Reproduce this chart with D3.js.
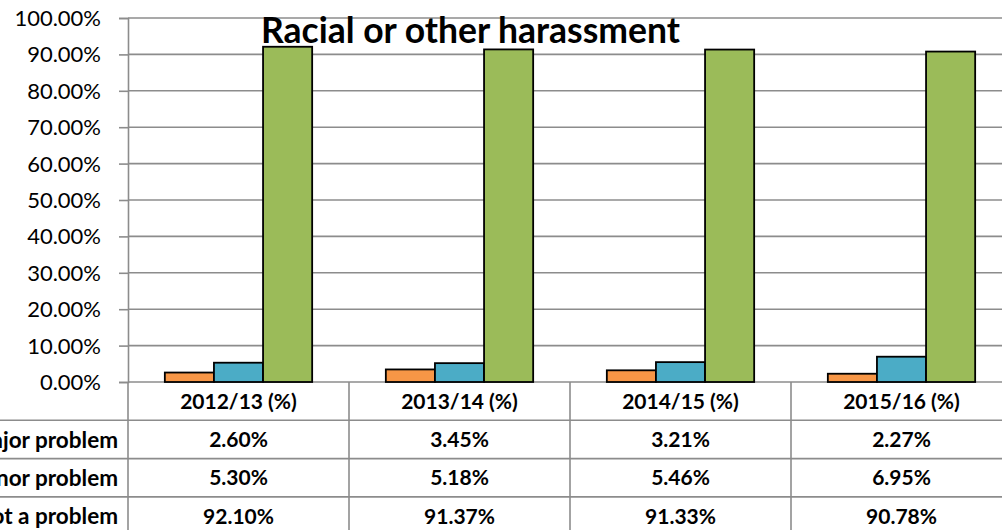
<!DOCTYPE html>
<html>
<head>
<meta charset="utf-8">
<script src="https://cdn.jsdelivr.net/npm/d3@7/dist/d3.min.js"></script>
<style>
  html, body { margin: 0; padding: 0; background: #fff; }
  svg { display: block; }
  text { font-family: Lato, "Open Sans", sans-serif; fill: #000; }
</style>
</head>
<body>
<svg id="chart" width="1002" height="530"></svg>
<script>
const title = "Racial or other harassment";
const categories = ["2012/13 (%)", "2013/14 (%)", "2014/15 (%)", "2015/16 (%)"];
const seriesNames = ["Major problem", "Minor problem", "Not a problem"];
const majorProblem = [2.60, 3.45, 3.21, 2.27];
const minorProblem = [5.30, 5.18, 5.46, 6.95];
const notAProblem = [92.10, 91.37, 91.33, 90.78];
const yTicks = [0, 10, 20, 30, 40, 50, 60, 70, 80, 90, 100];
const colors = ["#F79646", "#4BACC6", "#9BBB59"];

const series = [majorProblem, minorProblem, notAProblem];

const W = 1002, H = 530;
const plotL = 128, plotR = 1012, plotT = 18, plotB = 382;
const rowH = 38.3;
const gridColor = "#8c8c8c";

const svg = d3.select("#chart");

const x0 = d3.scaleBand().domain(categories).range([plotL, plotR]).paddingInner(0).paddingOuter(0);
const bw = x0.bandwidth();
const x1 = d3.scaleBand().domain(seriesNames).range([0, bw]).paddingInner(0).paddingOuter(0.75);
const y = d3.scaleLinear().domain([0, 100]).range([plotB, plotT]);

// gridlines
svg.append("g").selectAll("line").data(yTicks).join("line")
  .attr("x1", plotL).attr("x2", plotR)
  .attr("y1", d => y(d)).attr("y2", d => y(d))
  .attr("stroke", gridColor).attr("stroke-width", 1.6);

// y axis
const yAxis = d3.axisLeft(y).tickValues(yTicks).tickSize(9).tickPadding(18)
  .tickFormat(d => d.toFixed(2) + "%");
const ya = svg.append("g").attr("transform", `translate(${plotL},0)`).call(yAxis);
ya.select(".domain").attr("stroke", gridColor).attr("stroke-width", 1.6);
ya.selectAll(".tick line").attr("stroke", gridColor).attr("stroke-width", 1.6);
ya.selectAll(".tick text").style("font-family", "Lato, sans-serif").style("font-size", "22px").attr("fill", "#000").attr("dy", "0.34em");

// bars
const groups = svg.append("g").selectAll("g").data(categories).join("g")
  .attr("transform", d => `translate(${x0(d)},0)`);
groups.selectAll("rect").data((c, ci) => series.map((s, si) => ({name: seriesNames[si], v: s[ci], si})))
  .join("rect")
  .attr("x", d => x1(d.name))
  .attr("width", x1.bandwidth())
  .attr("y", d => y(d.v))
  .attr("height", d => y(0) - y(d.v))
  .attr("fill", d => colors[d.si])
  .attr("stroke", "#000").attr("stroke-width", 1.8);

// table
const tbl = svg.append("g");
const rowsY = [plotB, plotB + rowH, plotB + 2 * rowH, plotB + 3 * rowH, plotB + 4 * rowH];
tbl.selectAll("line.h").data(rowsY.slice(1)).join("line").attr("class", "h")
  .attr("x1", -300).attr("x2", plotR)
  .attr("y1", d => d).attr("y2", d => d)
  .attr("stroke", gridColor).attr("stroke-width", 1.6);
tbl.selectAll("line.v").data(categories.map(c => x0(c)).concat([plotR])).join("line").attr("class", "v")
  .attr("x1", d => d).attr("x2", d => d)
  .attr("y1", plotB).attr("y2", H + 10)
  .attr("stroke", gridColor).attr("stroke-width", 1.6);
tbl.selectAll("text.hd").data(categories).join("text").attr("class", "hd")
  .attr("x", d => x0(d) + bw / 2).attr("y", plotB + rowH / 2)
  .attr("dy", "0.36em").attr("text-anchor", "middle")
  .style("font-weight", "bold").style("font-size", "21px")
  .text(d => d);
seriesNames.forEach((name, si) => {
  const cy = rowsY[si + 1] + rowH / 2;
  tbl.append("text").attr("x", 118).attr("y", cy).attr("dy", "0.36em")
    .attr("text-anchor", "end").style("font-weight", "bold").style("font-size", "22.5px")
    .text(name);
  tbl.append("rect").attr("x", -80).attr("y", cy - 6).attr("width", 12).attr("height", 12)
    .attr("fill", colors[si]).attr("stroke", "#000");
  tbl.selectAll(null).data(series[si]).join("text")
    .attr("x", (d, i) => x0(categories[i]) + bw / 2).attr("y", cy).attr("dy", "0.36em")
    .attr("text-anchor", "middle").style("font-weight", "bold").style("font-size", "21px")
    .text(d => d.toFixed(2) + "%");
});

// title
svg.append("text").attr("x", 470.5).attr("y", 43).attr("text-anchor", "middle")
  .style("font-weight", "bold").style("font-size", "35.5px")
  .text(title);
</script>
</body>
</html>
